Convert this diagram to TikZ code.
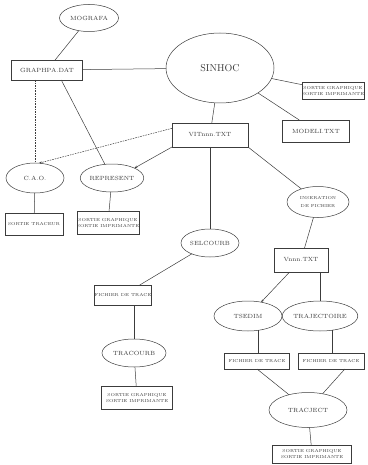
\documentclass[tikz,border=0pt]{standalone}
\usetikzlibrary{shapes.geometric,arrows.meta}
\definecolor{flowInk}{HTML}{3C3C3C}
\tikzset{
  flow diagram/.style={
    draw=flowInk, line width=0.5pt,
    >={Stealth[length=3pt,width=2.2pt]},
    every node/.style={font=\fontsize{6}{7}\selectfont,
      text=flowInk, inner sep=0pt, outer sep=0pt, align=center}
  },
  flow prog/.style={ellipse, draw=flowInk},
  flow file/.style={rectangle, draw=flowInk},
  flow tiny/.style={font=\fontsize{4.3}{5.6}\selectfont},
  flow soft/.style={dashed, dash pattern=on 1.6pt off 1pt}
}

\begin{document}
\begin{tikzpicture}[flow diagram,x=1pt,y=-1pt]
    \useasboundingbox (0,0) rectangle (367,465);
    % programmes (ellipses)
    \node[flow prog, minimum width=59pt, minimum height=27pt] (mografa) at (89,18) {MOGRAFA};
    \node[flow prog, minimum width=108pt, minimum height=70pt, font=\fontsize{10}{12}\selectfont] (sinhoc) at (220,68) {SINHOC};
    \node[flow prog, minimum width=58pt, minimum height=30pt] (cao) at (35,178) {C.A.O.};
    \node[flow prog, minimum width=60pt, minimum height=28pt] (represent) at (112,178) {REPRESENT};
    \node[flow prog, flow tiny, minimum width=62pt, minimum height=31pt] (inser) at (318,202) {INSERATION\\[2pt]DE FICHIER};
    \node[flow prog, minimum width=58pt, minimum height=28pt] (selcourb) at (210,243) {SELCOURB};
    \node[flow prog, minimum width=68pt, minimum height=30pt] (tsedim) at (248,316) {TSEDIM};
    \node[flow prog, minimum width=62pt, minimum height=30pt] (traj) at (320,316) {TRAJECTOIRE};
    \node[flow prog, minimum width=64pt, minimum height=28pt] (tracourb) at (134,353) {TRACOURB};
    \node[flow prog, minimum width=78pt, minimum height=35pt] (traject) at (308,410) {TRACJECT};
    % fichiers et sorties (boites)
    \node[flow file, minimum width=71pt, minimum height=20pt] (graphpa) at (47,70) {GRAPHPA.DAT};
    \node[flow file, flow tiny, minimum width=60pt, minimum height=17pt] (sortieA) at (333,91) {SORTIE GRAPHIQUE\\SORTIE IMPRIMANTE};
    \node[flow file, minimum width=67pt, minimum height=22pt] (modeli) at (316,131) {MODELI.TXT};
    \node[flow file, minimum width=76pt, minimum height=24pt] (vit) at (210,135) {VITnnn.TXT};
    \node[flow file, flow tiny, minimum width=58pt, minimum height=22pt] (sortieT) at (34,224) {SORTIE TRACEUR};
    \node[flow file, flow tiny, minimum width=58pt, minimum height=23pt] (sortieR) at (108,223) {SORTIE GRAPHIQUE\\SORTIE IMPRIMANTE};
    \node[flow file, minimum width=54pt, minimum height=24pt] (vnnn) at (301,260) {Vnnn.TXT};
    \node[flow file, flow tiny, minimum width=57pt, minimum height=20pt] (fichA) at (123,295) {FICHIER DE TRACE};
    \node[flow file, flow tiny, minimum width=65pt, minimum height=16pt] (fichB) at (257,361) {FICHIER DE TRACE};
    \node[flow file, flow tiny, minimum width=66pt, minimum height=16pt] (fichC) at (331,361) {FICHIER DE TRACE};
    \node[flow file, flow tiny, minimum width=71pt, minimum height=23pt] (sortieB) at (137,398) {SORTIE GRAPHIQUE\\SORTIE IMPRIMANTE};
    \node[flow file, flow tiny, minimum width=79pt, minimum height=18pt] (sortieC) at (312,454) {SORTIE GRAPHIQUE\\SORTIE IMPRIMANTE};
    % liaisons
    \draw (mografa) -- (graphpa);
    \draw (graphpa) -- (sinhoc);
    \draw (sinhoc) -- (sortieA);
    \draw (sinhoc) -- (modeli);
    \draw (sinhoc) -- (vit);
    \draw[flow soft] (graphpa.south -| cao.north) -- (cao.north);
    \draw (graphpa.-35) -- (represent);
    \draw[flow soft, ->] (vit.170) -- (cao.75);
    \draw[->] (vit.south west) -- (represent.north east);
    \draw (cao) -- (sortieT);
    \draw (represent) -- (sortieR);
    \draw (vit) -- (selcourb);
    \draw (vit.south east) -- (inser);
    \draw (inser) -- (vnnn);
    \draw (selcourb) -- (fichA);
    \draw (fichA.south -| tracourb.north) -- (tracourb.north);
    \draw (tracourb) -- (sortieB);
    \draw[->] (vnnn) -- (tsedim);
    \draw (vnnn.south -| traj.north) -- (traj.north);
    \draw (tsedim.-55) -- (tsedim.-55 |- fichB.north);
    \draw (traj.-49) -- (traj.-49 |- fichC.north);
    \draw (fichB.south) -- (traject);
    \draw (fichC.-30) -- (traject);
    \draw (traject) -- (sortieC);
  \end{tikzpicture}
\end{document}
